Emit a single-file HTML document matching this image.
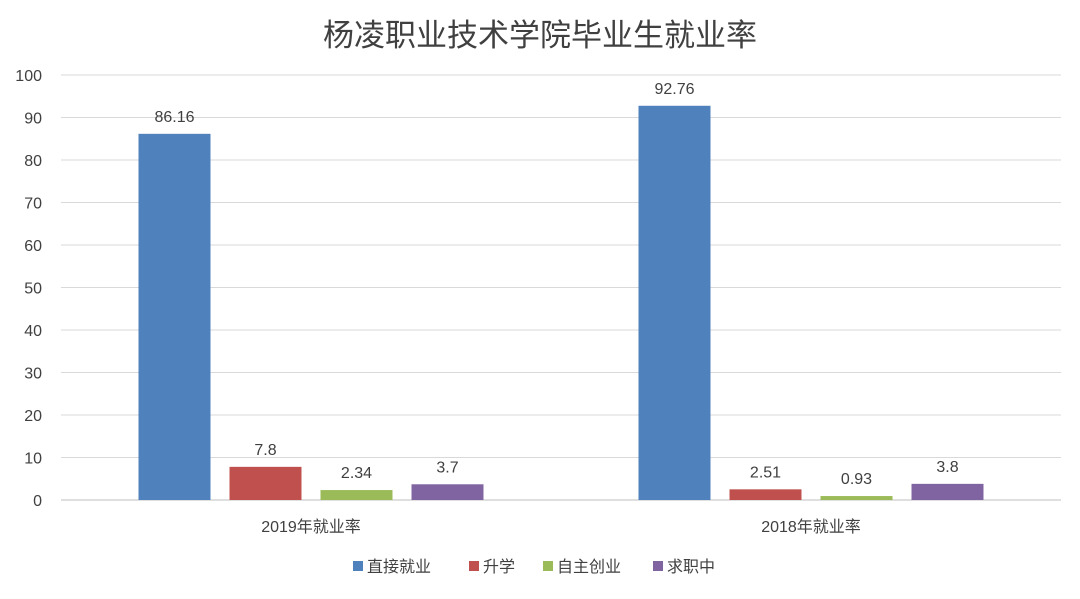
<!DOCTYPE html>
<html><head><meta charset="utf-8"><style>
body{margin:0;background:#fff;}
svg text{font-family:"Liberation Sans","Noto Sans CJK SC",sans-serif;fill:#404040;}
</style></head><body>
<svg id="chart" width="1080" height="594" xmlns="http://www.w3.org/2000/svg">
<text x="540" y="46" text-anchor="middle" font-size="31" fill="#595959">杨凌职业技术学院毕业生就业率</text>
<g id="grid"></g><g id="bars"></g><g id="legend"></g>
</svg>
<script>
const categories=["2019年就业率","2018年就业率"];
const seriesNames=["直接就业","升学","自主创业","求职中"];
const values=[[86.16,92.76],[7.8,2.51],[2.34,0.93],[3.7,3.8]];
const yTicks=[0,10,20,30,40,50,60,70,80,90,100];
const colors=["#4f81bd","#c0504d","#9bbb59","#8064a2"];
const NS="http://www.w3.org/2000/svg";
const x0=61,x1=1061,y0=500,y1=75,ymax=100;
const y=v=>y0-(v/ymax)*(y0-y1);
const catW=(x1-x0)/categories.length;
const barW=72,step=91;
function mk(t,a,p){const e=document.createElementNS(NS,t);for(const k in a)e.setAttribute(k,a[k]);p.appendChild(e);return e;}
const grid=document.getElementById('grid');
yTicks.forEach(t=>{
 const l=mk('line',{x1:x0,x2:x1,y1:y(t),y2:y(t),stroke:t===0?'#bfbfbf':'#d9d9d9','stroke-width':1},grid);
 
 
 const tx=mk('text',{x:42,y:y(t)+6,'text-anchor':'end','font-size':16},grid);tx.textContent=t;
 
 
});
const bars=document.getElementById('bars');
categories.forEach((c,ci)=>{
 const cx=x0+catW*(ci+0.5);
 const start=cx-(step*3+barW)/2;
 seriesNames.forEach((s,si)=>{
  const v=values[si][ci];const bx=start+si*step;
  const r=mk('rect',{x:bx,y:y(v),width:barW,height:y0-y(v),fill:colors[si]},bars);
  
  
  const t=mk('text',{x:bx+barW/2,y:y(v)-12,'text-anchor':'middle','font-size':16},bars);t.textContent=v;
  
  
 });
 const xl=mk('text',{x:cx,y:532,'text-anchor':'middle','font-size':16},bars);xl.textContent=c;
 
 
});
const lg=document.getElementById('legend');
const lx=[353,469,543,653];
seriesNames.forEach((s,i)=>{
 const g=mk('g',{},lg);
 
 
 mk('rect',{x:lx[i],y:561,width:10,height:10,fill:colors[i]},g);
 const t=mk('text',{x:lx[i]+14,y:572,'font-size':16},g);t.textContent=s;
});
</script>
</body></html>
